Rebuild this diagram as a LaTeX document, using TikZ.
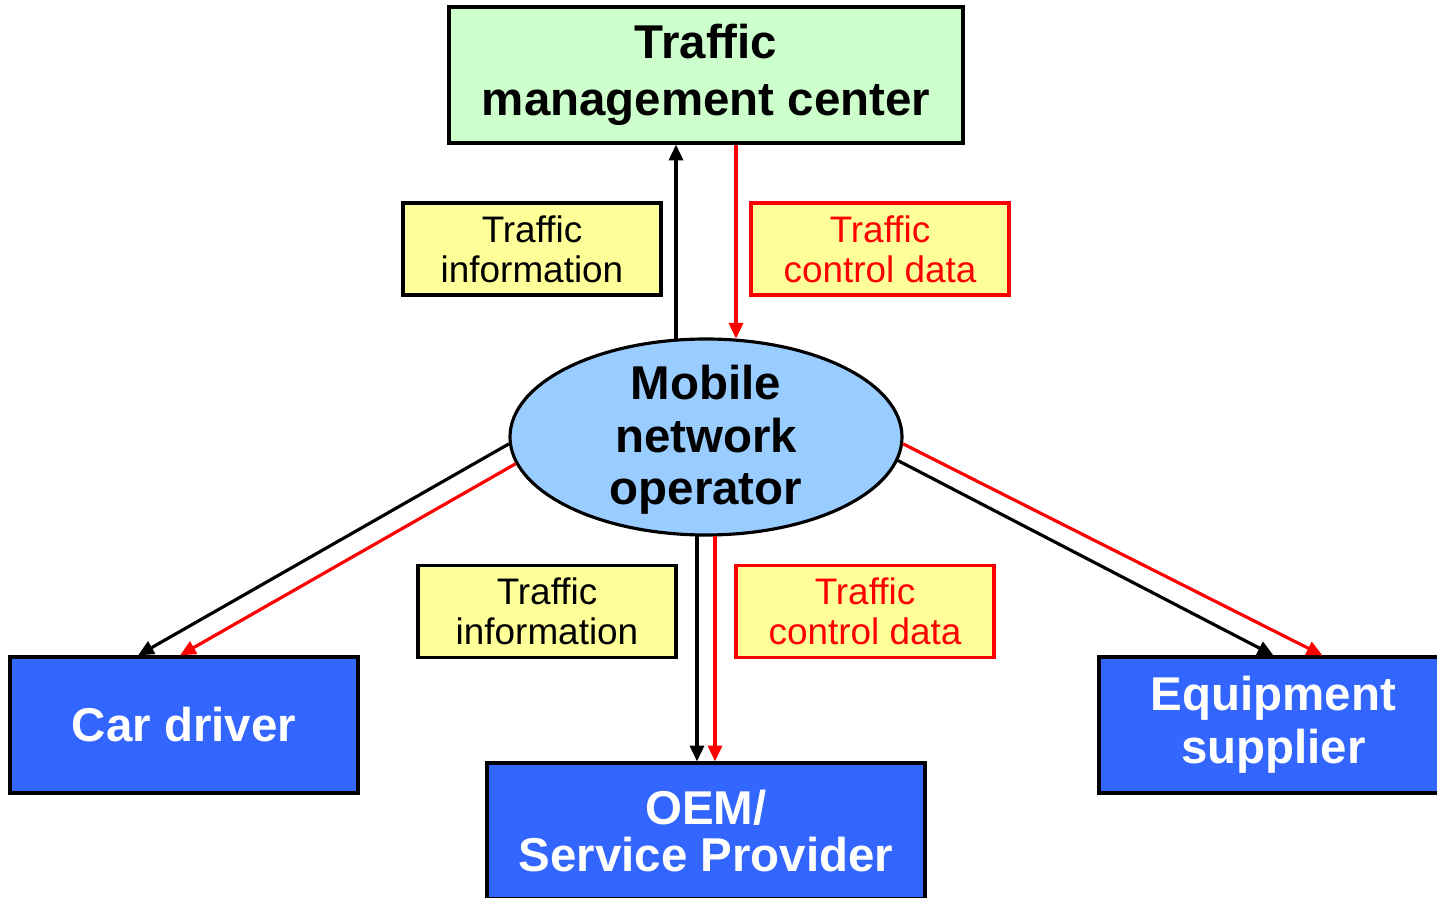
\documentclass[tikz,border=0pt]{standalone}
\usepackage{fontspec}
\setmainfont{Liberation Sans}
\usetikzlibrary{shapes.geometric,arrows.meta,calc}
\definecolor{tmcgreen}{HTML}{CCFFCC}
\definecolor{actblue}{HTML}{3366FF}
\definecolor{mnoblue}{HTML}{99CCFF}
\definecolor{labyellow}{HTML}{FFFF99}
\definecolor{pptred}{HTML}{FF0000}
\tikzset{
  bigfont/.style={font=\fontsize{13.5}{15}\selectfont\bfseries},
  smallfont/.style={font=\fontsize{10.5}{11.4}\selectfont},
  actor/.style={draw=black, line width=0.9pt, fill=actblue, text=white, bigfont, align=center, inner sep=0pt, minimum width=3.48cm, minimum height=1.36cm},
  lab/.style={draw=black, line width=0.9pt, fill=labyellow, smallfont, align=center, inner sep=0pt, minimum width=2.58cm, minimum height=0.92cm},
  redlab/.style={lab, draw=pptred, text=pptred},
  flow/.style={line width=0.9pt, -{Triangle[length=4.5pt,width=4pt]}},
  redflow/.style={flow, draw=pptred, fill=pptred},
}
\begin{document}
\begin{tikzpicture}
\clip (0,0) rectangle (14.37,-8.98);
\fill[white] (0,0) rectangle (14.37,-8.98);

\node[draw=black, line width=0.9pt, fill=tmcgreen, bigfont, font=\fontsize{13.5}{16.3}\selectfont\bfseries, align=center, inner sep=0pt, minimum width=5.14cm, minimum height=1.36cm] (tmc) at (7.06,-0.75) {Traffic\\management center};

\node[ellipse, draw=black, line width=0.9pt, fill=mnoblue, inner sep=0pt, minimum width=3.92cm, minimum height=1.96cm] (mno) at (7.06,-4.37) {};
\node[bigfont, align=center, inner sep=0pt] (mnotext) at ($(mno.center)+(0,-0.03)$) {Mobile\\network\\operator};

\node[lab] (ti1) at (5.32,-2.49) {Traffic\\information};
\node[redlab] (tc1) at (8.80,-2.49) {Traffic\\control data};
\node[lab] (ti2) at (5.47,-6.115) {Traffic\\information};
\node[redlab] (tc2) at (8.65,-6.115) {Traffic\\control data};

\node[actor] (car) at (1.84,-7.25) {Car driver};
\node[actor, minimum width=4.38cm, font=\fontsize{13.5}{13.2}\selectfont\bfseries] (oem) at (7.06,-8.31) {OEM/\\Service Provider};
\node[actor, minimum width=3.49cm] (equip) at (12.735,-7.25) {\raisebox{0pt}{}Equipment\\supplier};

\coordinate (tA) at ($(tmc.south)+(-0.30,0)$);
\coordinate (tB) at ($(tmc.south)+(0.30,0)$);
\coordinate (oA) at ($(oem.north)+(-0.09,0)$);
\coordinate (oB) at ($(oem.north)+(0.09,0)$);

% TMC <-> MNO
\draw[flow] (mno.107.2 -| tA) -- (tA);
\draw[redflow] (tB) -- (mno.72.8 -| tB);

% MNO -> car driver
\draw[flow] (mno.182.9) -- ($(car.north)+(-0.46,0)$);
\draw[redflow] (mno.188.3) -- ($(car.north)+(-0.04,0)$);

% MNO -> OEM
\draw[flow] (mno.264.8 -| oA) -- (oA);
\draw[redflow] (mno.275.2 -| oB) -- (oB);

% MNO -> equipment supplier
\draw[flow] (mno.-7.4) -- (equip.north);
\draw[redflow] (mno.-2.3) -- ($(equip.north)+(0.49,0)$);
\end{tikzpicture}
\end{document}
